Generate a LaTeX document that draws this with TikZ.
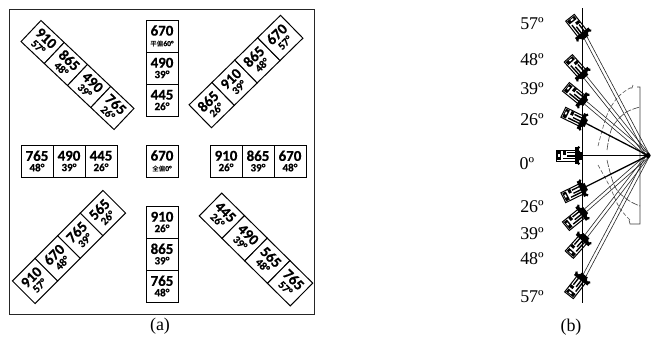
\documentclass[tikz,border=0pt]{standalone}
\usetikzlibrary{calc}
\usepackage{fontspec}
\setmainfont{Liberation Serif}
\newfontfamily\cellfont{Carlito Bold}[FakeBold=0.6]
\newfontfamily\cjkfont{Noto Sans CJK SC Bold}
\newcommand{\numfont}{\cellfont\fontsize{15}{14}\selectfont}
\newcommand{\angfont}{\cellfont\fontsize{11}{12}\selectfont}
\newcommand{\tinyfont}{\cellfont\fontsize{7.5}{12}\selectfont}
\newcommand{\cjkpart}[1]{{\cjkfont\fontsize{6.5}{12}\selectfont #1}}
\tikzset{
  cellbox/.style={draw=black,line width=1bp,fill=white,inner sep=0pt,align=center,
    minimum width=32bp,minimum height=#1,text width=32bp},
  cellbox/.default=32bp,
  angletext/.style={font=\fontsize{18}{18}\selectfont,inner sep=0pt,anchor=center},
  caption/.style={font=\fontsize{18}{18}\selectfont,inner sep=0pt},
  ray/.style={line width=0.6bp,black!85},
  heavyray/.style={line width=1.3bp,black},
  guide/.style={line width=0.6bp,black!75,dash pattern=on 7bp off 1.5bp},
  guidesolid/.style={line width=0.6bp,black!75},
  guidedash/.style={line width=0.6bp,black!65,dash pattern=on 4bp off 2bp}
}
\newcommand{\cellstrip}[6]{%
  \begin{scope}[shift={(#1,#2)},rotate=#3]
    \foreach \num/\lab [count=\i] in {#6}{
      \node[cellbox=#4,transform shape] (#5\i) at ({(\i-2.5)*32},0)
        {\numfont\num\\[-1.5bp]\angfont\lab};
    }
  \end{scope}}
\newcommand{\loader}[4]{%
  \begin{scope}[shift={(#1,#2)},rotate=#3]
    \draw[black,line width=1bp,fill=white] (-13,-5.5) rectangle (7,5.5);
    \fill[black] (-12,-4.5) rectangle (-8,4.5);
    \fill[white] (-11,-2) rectangle (-9.5,1);
    \fill[black] (-6,-5) rectangle (-3,-1);
    \draw[black,line width=1.4bp] (-6,3) -- (7,3) (-2,0.5) -- (7,0.5) (-2,-3) -- (7,-3);
    \fill[black] (6,-8.5) rectangle (9.5,8.5);
    \fill[black] (9,-4) rectangle (12.5,4);
    \foreach \q in {-8,-4,0,4,8}{\fill[black] (9.5,\q) circle (1.5);}
    \coordinate (#4) at (12.5,0);
    \coordinate (#4a) at (12.5,-1.7);
    \coordinate (#4b) at (12.5,1.7);
  \end{scope}}
\begin{document}
\begin{tikzpicture}[x=1bp,y=-1bp]
\useasboundingbox (0,0) rectangle (651,337);
\fill[white] (0,0) rectangle (651,337);
\draw[black!85,line width=1bp] (9,9) rectangle (314,314);
\cellstrip{77.5}{75}{-43.4}{29bp}{tl}{910/57°,865/48°,490/39°,765/26°}
\cellstrip{246}{71.5}{44.4}{32bp}{tr}{865/26°,910/39°,865/48°,670/57°}
\cellstrip{69}{247}{45}{32bp}{bl}{910/57°,670/48°,765/39°,565/26°}
\cellstrip{256}{249.5}{-44.7}{32bp}{br}{445/26°,490/39°,565/48°,765/57°}
\foreach \num/\lab [count=\i] in {765/48°,490/39°,445/26°}{
  \node[cellbox] (lr\i) at ({37+(\i-1)*32},161) {\numfont\num\\[-1.5bp]\angfont\lab};}
\foreach \num/\lab [count=\i] in {910/26°,865/39°,670/48°}{
  \node[cellbox] (rr\i) at ({226+(\i-1)*32},161) {\numfont\num\\[-1.5bp]\angfont\lab};}
\node[cellbox] (mid) at (162,161) {\numfont 670\\[-1.5bp]\cjkpart{全偏}\tinyfont 0°};
\node[cellbox] (tc1) at (162,36) {\numfont 670\\[-1.5bp]\cjkpart{平偏}\tinyfont 60°};
\node[cellbox] (tc2) at (162,68) {\numfont 490\\[-1.5bp]\angfont 39°};
\node[cellbox] (tc3) at (162,100) {\numfont 445\\[-1.5bp]\angfont 26°};
\node[cellbox] (bc1) at (162,222) {\numfont 910\\[-1.5bp]\angfont 26°};
\node[cellbox] (bc2) at (162,254) {\numfont 865\\[-1.5bp]\angfont 39°};
\node[cellbox] (bc3) at (162,286) {\numfont 765\\[-1.5bp]\angfont 48°};
\node[caption] (capa) at (160,326) {(a)};
\coordinate (apex) at (648,155.5);
\coordinate (railtop) at (582.5,8);
\coordinate (railbot) at (582.5,303);
\draw[guidedash] plot[smooth,tension=0.6] coordinates {(598,146) (607,115) (618,97) (630,88)};
\draw[guidedash] plot[smooth,tension=0.6] coordinates {(598,165) (610,187) (619,207) (630,220)};
\draw[guide] plot[smooth,tension=0.6] coordinates {(607,150) (612,128) (625,113) (640,107)};
\draw[guide] plot[smooth,tension=0.6] coordinates {(607,160) (615,187) (628,200) (640,206)};
\draw[guidesolid] (637,87) -- (640,87) -- (640,224) -- (630,224) -- (629,220);
\draw[guidesolid] (630,88) -- (632,88) -- (633,85);
\loader{578}{28}{-52}{mu57}
\loader{577}{68}{-48}{mu48}
\loader{576}{95}{-39}{mu39}
\loader{575}{118}{-26}{mu26}
\loader{569}{155.5}{0}{m00}
\loader{575}{192}{26}{md26}
\loader{576}{218}{39}{md39}
\loader{578}{245}{48}{md48}
\loader{577}{285}{52}{md57}
\draw[line width=1.1bp,black] (railtop) -- (railbot);
\foreach \m in {mu57,mu48,mu39,md39,md48,md57}{
  \draw[ray] (\m a) -- ($(apex)+(\m a)-(\m)$);
  \draw[ray] (\m b) -- ($(apex)+(\m b)-(\m)$);}
\draw[heavyray] (mu26) -- (apex);
\draw[heavyray] (md26) -- (apex);
\draw[heavyray] (m00) -- (apex);
\fill[black] (apex) circle (2.6);
\node[angletext] (u57) at (532,24) {57º};
\node[angletext] (u48) at (532,60) {48º};
\node[angletext] (u39) at (532,89) {39º};
\node[angletext] (u26) at (532,120) {26º};
\node[angletext] (z00) at (527,164) {0º};
\node[angletext] (d26) at (532,207) {26º};
\node[angletext] (d39) at (532,234) {39º};
\node[angletext] (d48) at (532,259) {48º};
\node[angletext] (d57) at (532,297) {57º};
\node[caption] (capb) at (571,327) {(b)};
\end{tikzpicture}
\end{document}
